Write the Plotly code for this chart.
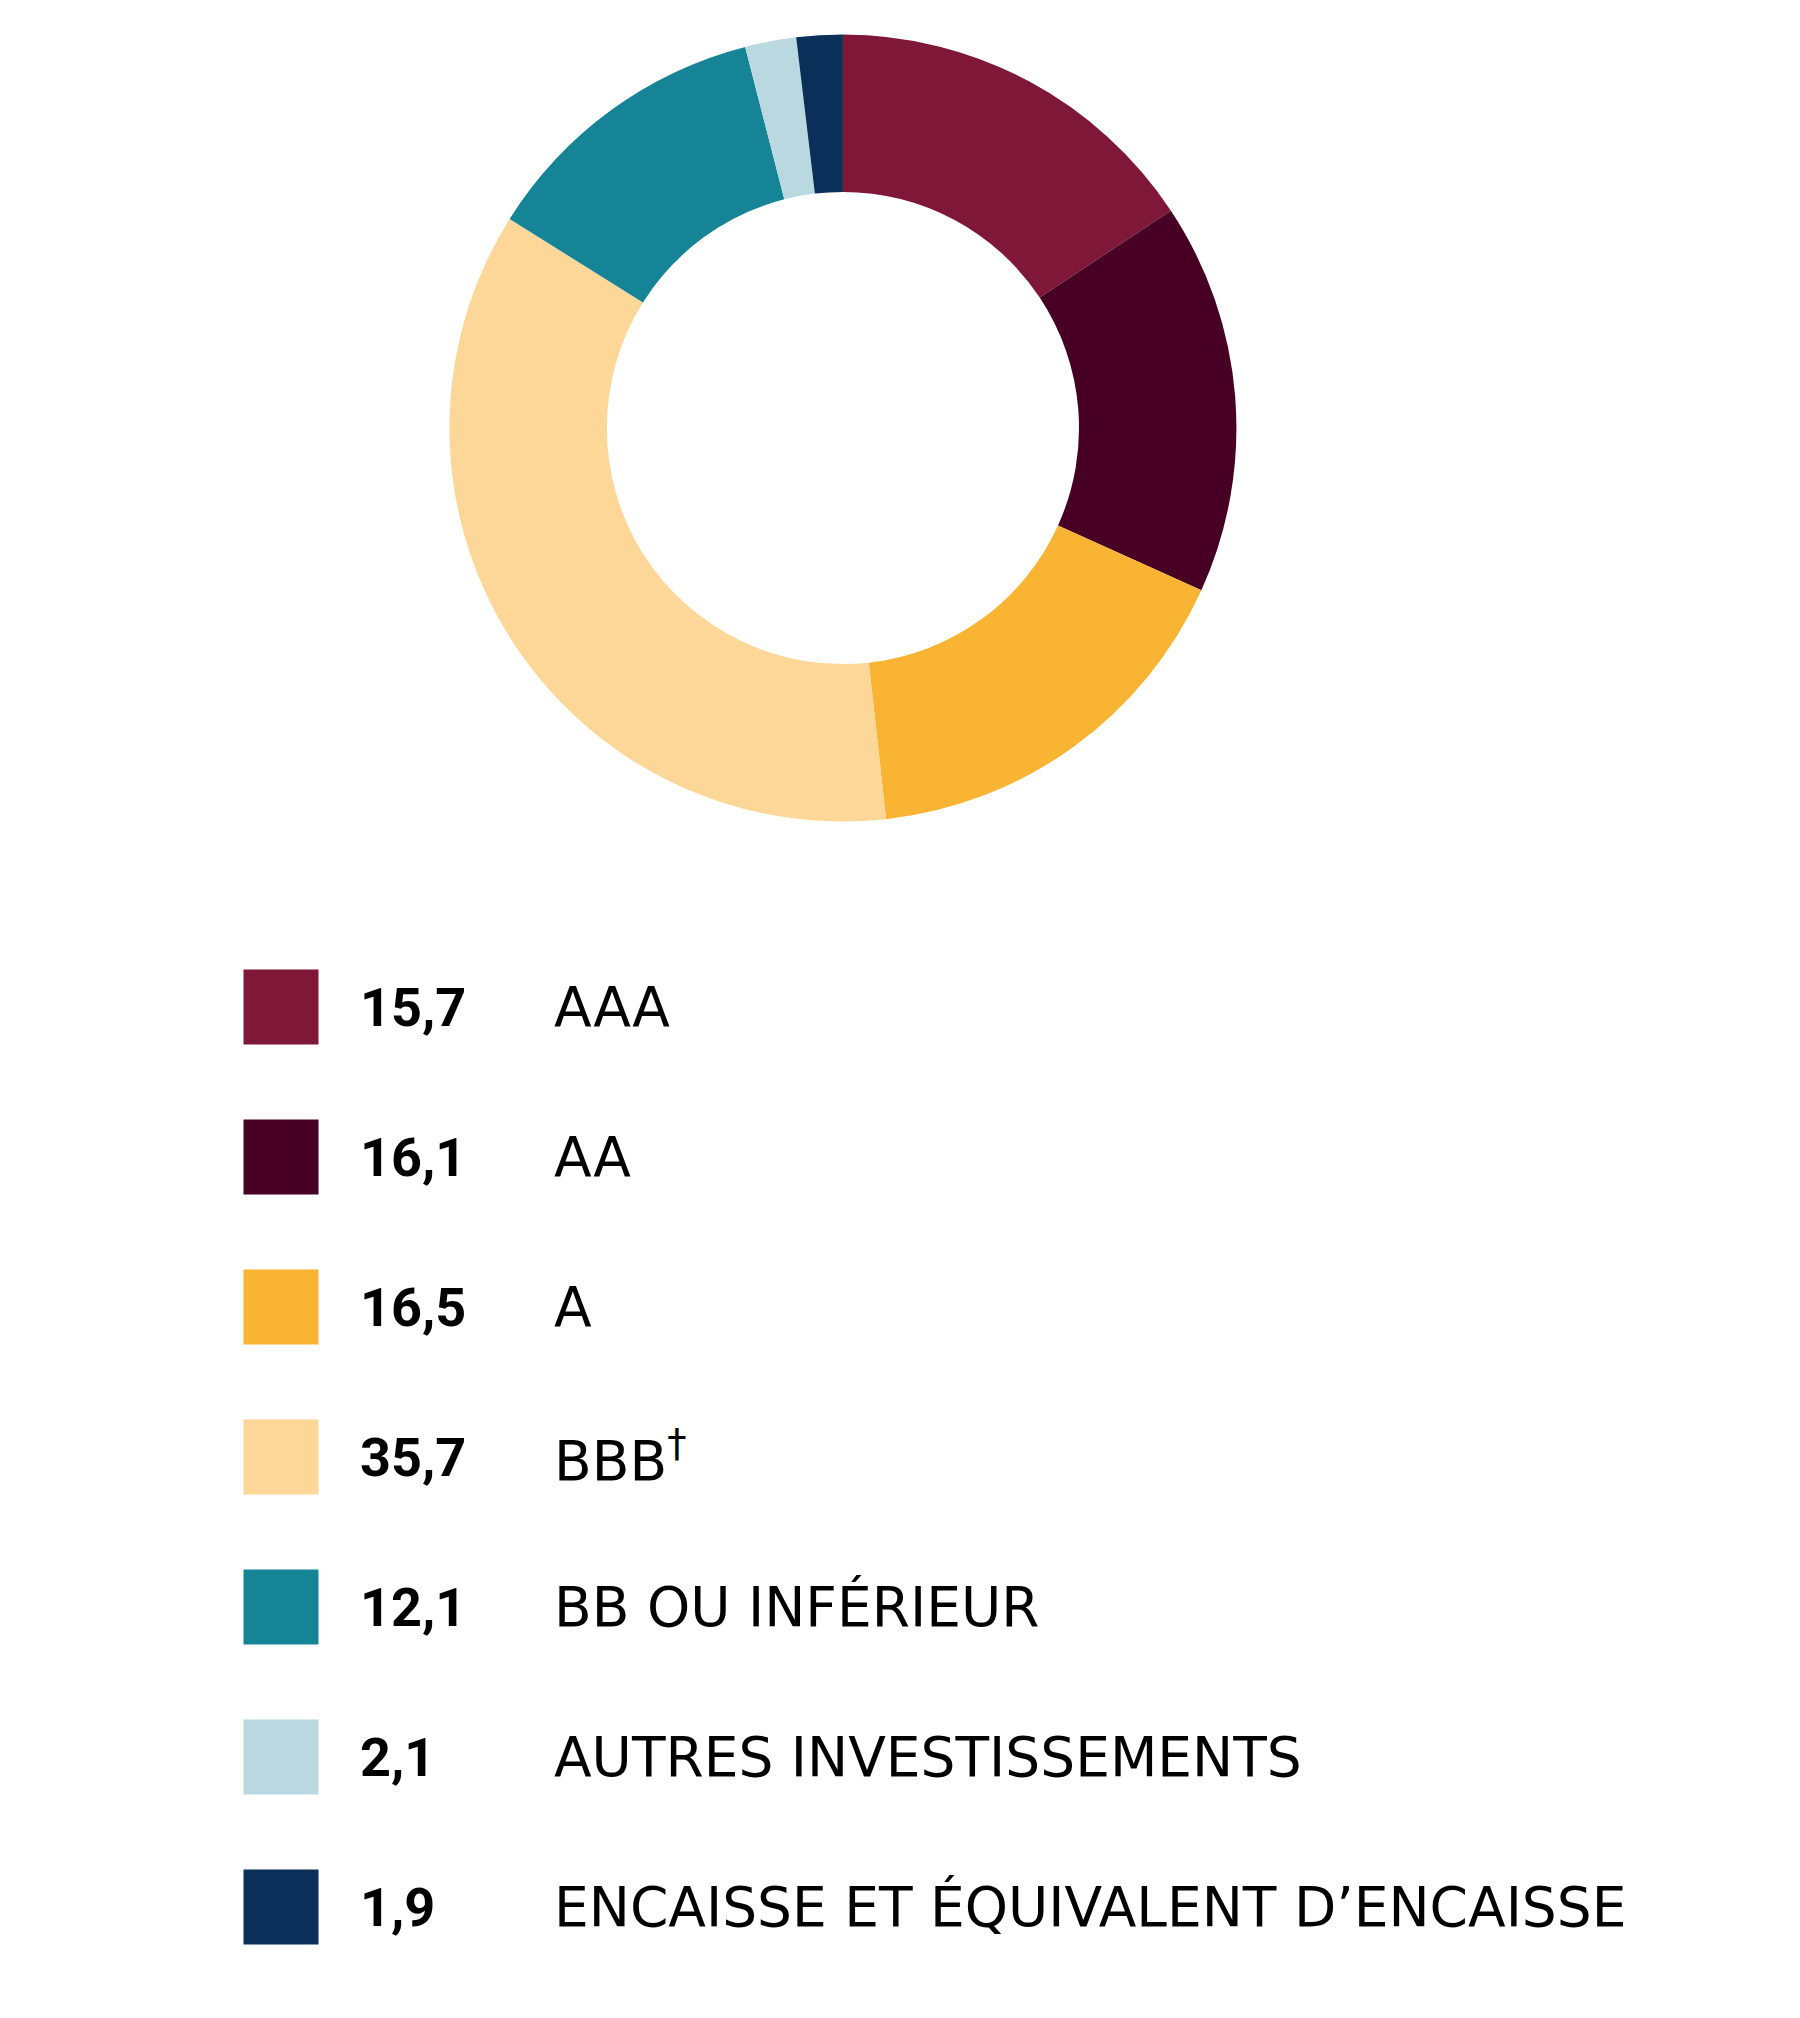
import plotly.graph_objects as go

# Répartition (%) par cote de crédit
categories = ["AAA", "AA", "A", "BBB<sup>†</sup>", "BB OU INFÉRIEUR",
              "AUTRES INVESTISSEMENTS", "ENCAISSE ET ÉQUIVALENT D’ENCAISSE"]
values = [15.7, 16.1, 16.5, 35.7, 12.1, 2.1, 1.9]
value_labels = ["15,7", "16,1", "16,5", "35,7", "12,1", "2,1", "1,9"]
colors = ["#7F1738", "#470023", "#FAB433", "#FDD798", "#158497", "#B9D8E0", "#0A2F59"]

W, H = 1800, 2018

fig = go.Figure()

fig.add_trace(go.Pie(
    values=values,
    labels=categories,
    marker=dict(colors=colors, line=dict(width=0)),
    hole=0.6,
    sort=False,
    direction="clockwise",
    textinfo="none",
    hoverinfo="none",
    showlegend=False,
    domain=dict(x=[0.2497, 0.6869], y=[0.5929, 0.9829]),
))

# legend rows on a hidden pixel-like axis
rows = list(range(len(categories)))
fig.add_trace(go.Scatter(
    x=[281] * len(rows),
    y=rows,
    mode="markers",
    marker=dict(symbol="square", size=75, color=colors, line=dict(width=0)),
    hoverinfo="skip",
    showlegend=False,
))

for i, (num, lab) in enumerate(zip(value_labels, categories)):
    fig.add_annotation(x=358, y=i, text=f"<b>{num}</b>", xanchor="left", yanchor="middle",
                       showarrow=False, font=dict(family="Roboto", size=54, color="#000000"))
    fig.add_annotation(x=552, y=i, text=lab, xanchor="left", yanchor="middle",
                       showarrow=False, font=dict(family="DejaVu Sans", size=55, color="#000000"))

fig.update_xaxes(range=[0, W], visible=False, fixedrange=True)
fig.update_yaxes(range=[(H - 1007) / 150, -1007 / 150], visible=False, fixedrange=True)

fig.update_layout(
    width=W, height=H,
    margin=dict(l=0, r=0, t=0, b=0),
    paper_bgcolor="white",
    plot_bgcolor="white",
)

fig.write_html("out.html", config={"displayModeBar": False},
               post_script="document.body.style.margin='0';")
